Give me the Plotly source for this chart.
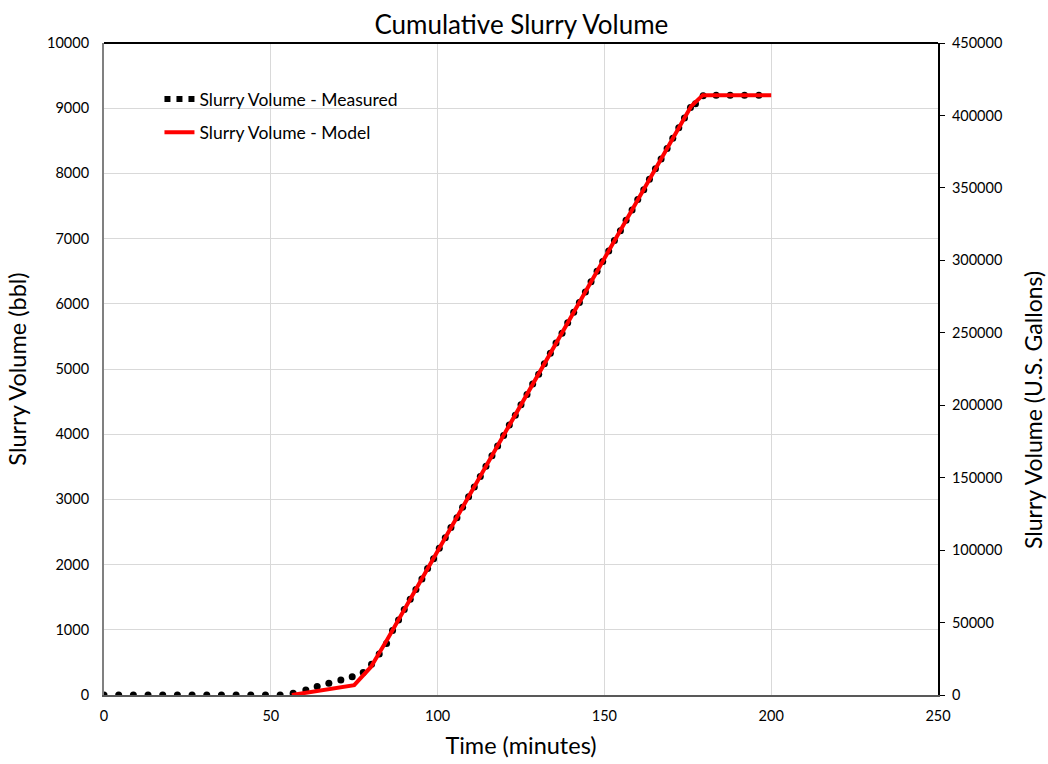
import plotly.graph_objects as go

# Measured cumulative slurry volume (bbl) vs time (minutes)
meas_time = [0.0, 4.4, 8.8, 13.2, 17.6, 22.0, 26.4, 30.8, 35.2, 39.6, 44.0, 48.4, 52.8,
             56.7, 60.5, 63.9, 67.4, 71.0, 74.4, 77.7, 80.2, 82.5, 84.7,
             86.5, 88.3, 90.0, 91.8, 93.5, 95.3, 97.0, 98.8, 100.5, 102.3,
             104.0, 105.8, 107.5, 109.3, 111.0, 112.8, 114.5, 116.3, 118.0, 119.8,
             121.5, 123.3, 125.0, 126.8, 128.5, 130.3, 132.0, 133.8, 135.5, 137.3,
             139.0, 140.8, 142.5, 144.3, 146.0, 147.8, 149.5, 151.3, 153.0, 154.8,
             156.5, 158.3, 160.0, 161.8, 163.5, 165.3, 167.0, 168.8, 170.5, 172.3,
             174.0, 175.8, 177.3, 179.6, 183.5, 187.7, 192.0, 196.3]
meas_bbl = [0, 0, 0, 0, 0, 0, 0, 0, 0, 0, 0, 0, 0,
            25, 75, 130, 180, 230, 280, 345, 470, 630, 790,
            990, 1150, 1310, 1470, 1620, 1780, 1940, 2090, 2250, 2410,
            2570, 2720, 2880, 3040, 3190, 3350, 3510, 3670, 3820, 3980,
            4140, 4290, 4450, 4610, 4770, 4920, 5080, 5240, 5400, 5550,
            5710, 5870, 6020, 6180, 6340, 6500, 6650, 6810, 6970, 7120,
            7280, 7440, 7600, 7750, 7910, 8070, 8220, 8380, 8540, 8700,
            8850, 9010, 9070, 9190, 9200, 9200, 9200, 9200]

# Model curve
model_time = [56.3, 75.0, 80.0, 85.0, 176.0, 179.5, 200.0]
model_bbl = [0, 150, 430, 860, 9030, 9200, 9200]

# Axis ticks
x_ticks = [0, 50, 100, 150, 200, 250]
y_ticks_bbl = list(range(0, 10001, 1000))
y_ticks_gal = list(range(0, 450001, 50000))

FONT = "Lato"
fig = go.Figure()

fig.add_trace(go.Scatter(
    x=meas_time, y=meas_bbl, mode="markers",
    marker=dict(color="black", size=7),
    showlegend=False,
))
fig.add_trace(go.Scatter(
    x=model_time, y=model_bbl, mode="lines",
    line=dict(color="#ff0000", width=4),
    name="Slurry Volume - Model", legend="legend2",
))
# legend entry for the measured series, drawn as a row of dots
fig.add_trace(go.Scatter(
    x=[None], y=[None], mode="lines",
    line=dict(color="black", width=6, dash="6px,6px"),
    name="Slurry Volume - Measured", legend="legend",
))
# secondary (gallon) axis carrier
fig.add_trace(go.Scatter(
    x=[None], y=[None], yaxis="y2", showlegend=False, hoverinfo="skip",
))

fig.update_layout(
    width=1048, height=764,
    margin=dict(l=104, r=110, t=43, b=69, autoexpand=False),
    paper_bgcolor="white", plot_bgcolor="white",
    font=dict(family=FONT, color="black", size=14),
    title=dict(text="Cumulative Slurry Volume", x=0.4975, xanchor="center",
               y=0.968, yanchor="middle", font=dict(size=26, family=FONT)),
    xaxis=dict(
        range=[0, 250], tickvals=x_ticks, ticks="", showgrid=True, automargin=False,
        gridcolor="#d9d9d9", gridwidth=1, zeroline=False,
        showline=True, linecolor="#595959", linewidth=2,
        tickfont=dict(size=14.5), ticklabelstandoff=7,
        title=dict(text="Time (minutes)", font=dict(size=23.5), standoff=14),
    ),
    yaxis=dict(
        range=[0, 10000], tickvals=y_ticks_bbl, tickformat="d", ticks="",
        showgrid=True, gridcolor="#d9d9d9", gridwidth=1, zeroline=False,
        automargin=False,
        showline=True, linecolor="#808080", linewidth=2,
        tickfont=dict(size=14.5), ticklabelstandoff=10,
        title=dict(text="Slurry Volume (bbl)", font=dict(size=23.5), standoff=14),
    ),
    yaxis2=dict(
        range=[0, 450000], tickvals=y_ticks_gal, tickformat="d",
        overlaying="y", side="right", automargin=False,
        showgrid=False, zeroline=False, ticks="outside", ticklen=5,
        tickcolor="black", tickwidth=1,
        showline=True, linecolor="black", linewidth=2,
        tickfont=dict(size=14.5), ticklabelstandoff=4,
    ),
    annotations=[dict(
        text="Slurry Volume (U.S. Gallons)", textangle=-90,
        xref="paper", yref="paper", x=1.1145, y=0.438,
        xanchor="center", yanchor="middle", showarrow=False,
        font=dict(size=23, family=FONT),
    )],
    legend=dict(x=0.0665, y=0.914, xanchor="left", yanchor="middle",
                bgcolor="rgba(0,0,0,0)", font=dict(size=17.5), itemwidth=30),
    legend2=dict(x=0.0665, y=0.863, xanchor="left", yanchor="middle",
                 bgcolor="rgba(0,0,0,0)", font=dict(size=17.5), itemwidth=30),
    shapes=[dict(type="line", xref="paper", yref="paper", x0=0, x1=1, y0=1, y1=1,
                 line=dict(color="black", width=2))],
)

fig.write_html("out.html")
